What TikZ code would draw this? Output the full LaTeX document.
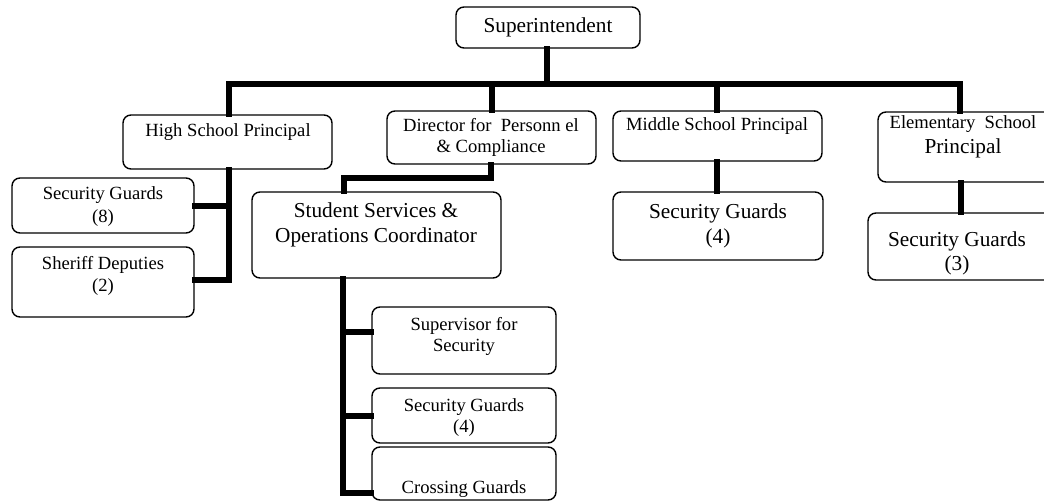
\documentclass[tikz,border=0pt]{standalone}
\usepackage{fontspec}
\setmainfont{Liberation Serif}
\begin{document}
\begin{tikzpicture}[x=1pt,y=-1pt,
  box/.style={draw, line width=1.4pt, rounded corners=8pt, inner sep=0pt},
  link/.style={line width=5.5pt, line cap=rect, line join=miter},
  smalltxt/.style={inner sep=0pt, align=center, font=\fontsize{18.6}{23}\selectfont},
  bigtxt/.style={inner sep=0pt, align=center, font=\fontsize{21.3}{25}\selectfont}]
\useasboundingbox (0,0) rectangle (1044,502);
\clip (0,0) rectangle (1044,502);

% boxes, given by their corners
\newcommand{\orgbox}[5]{\node[box, minimum width=#4-#2, minimum height=#5-#3] (#1) at ({(#2+#4)/2},{(#3+#5)/2}) {};}
\orgbox{sup}{456}{7}{640}{48}
\orgbox{hs}{123}{115}{332}{169}
\orgbox{sgeight}{12}{178}{194}{233}
\orgbox{sd}{12}{247}{194}{317}
\orgbox{dir}{387}{111}{596}{164}
\orgbox{ss}{252}{192}{501}{278}
\orgbox{ms}{613}{111}{822}{161}
\orgbox{sgms}{613}{192}{823}{260}
\orgbox{el}{878}{112}{1052}{182}
\orgbox{sgel}{868}{213}{1052}{280}
\orgbox{supsec}{372}{307}{556}{374}
\orgbox{sgss}{372}{388}{556}{443}
\orgbox{cg}{372}{447}{556}{500}

% labels
\node[bigtxt] (tsup) at (548,27) {Superintendent};
\node[smalltxt] (ths) at (228,132) {High School Principal};
\node[smalltxt] (tsgeight) at (103,206.5) {Security Guards\\(8)};
\node[smalltxt, font=\fontsize{18.6}{22}\selectfont] (tsd) at (103,276) {Sheriff Deputies\\(2)};
\node[smalltxt, font=\fontsize{18.6}{21}\selectfont] (tdir) at (491,137.5) {Director for~ Personn el\\\& Compliance};
\node[bigtxt] (tss) at (376,224.5) {Student Services \&\\Operations Coordinator};
\node[smalltxt] (tms) at (717,126) {Middle School Principal};
\node[bigtxt] (tsgms) at (718,225.5) {Security Guards\\(4)};
\node[smalltxt] (tel) at (963,124) {Elementary~ School};
\node[bigtxt] (telp) at (963,148) {Principal};
\node[bigtxt, font=\fontsize{21.3}{24}\selectfont] (tsgel) at (957,253) {Security Guards\\(3)};
\node[smalltxt, font=\fontsize{18.6}{21}\selectfont] (tsupsec) at (464,336.5) {Supervisor for\\Security};
\node[smalltxt, font=\fontsize{18.6}{21}\selectfont] (tsgss) at (464,417.5) {Security Guards\\(4)};
\node[smalltxt] (tcg) at (464,489) {Crossing Guards};

% connectors
\coordinate (bar) at (547,84);
\draw[link] (sup.south -| bar) -- (bar);
\draw[link] (229,84) -- (960,84);
\draw[link] (229,84) -- (229,84 |- hs.north);
\draw[link] (492,84) -- (492,84 |- dir.north);
\draw[link] (717,84) -- (717,84 |- ms.north);
\draw[link] (960,84) -- (960,84 |- el.north);

% high school branch
\coordinate (hsa) at (229,206);
\coordinate (hsb) at (229,280);
\draw[link] (hs.south -| hsa) -- (hsb) -- (sd.east |- hsb);
\draw[link] (hsa) -- (sgeight.east |- hsa);

% director to coordinator
\coordinate (da) at (491,178);
\coordinate (db) at (344,178);
\draw[link] (dir.south -| da) -- (da) -- (db) -- (db |- ss.north);

% coordinator branch
\coordinate (ca) at (343,332);
\coordinate (cb) at (343,416);
\coordinate (cc) at (343,493);
\draw[link] (ss.south -| ca) -- (cc) -- (cg.west |- cc);
\draw[link] (ca) -- (supsec.west |- ca);
\draw[link] (cb) -- (sgss.west |- cb);

% middle and elementary
\draw[link] (ms.south -| 717,0) -- (sgms.north -| 717,0);
\draw[link] (el.south -| 961,0) -- (sgel.north -| 961,0);
\end{tikzpicture}
\end{document}
